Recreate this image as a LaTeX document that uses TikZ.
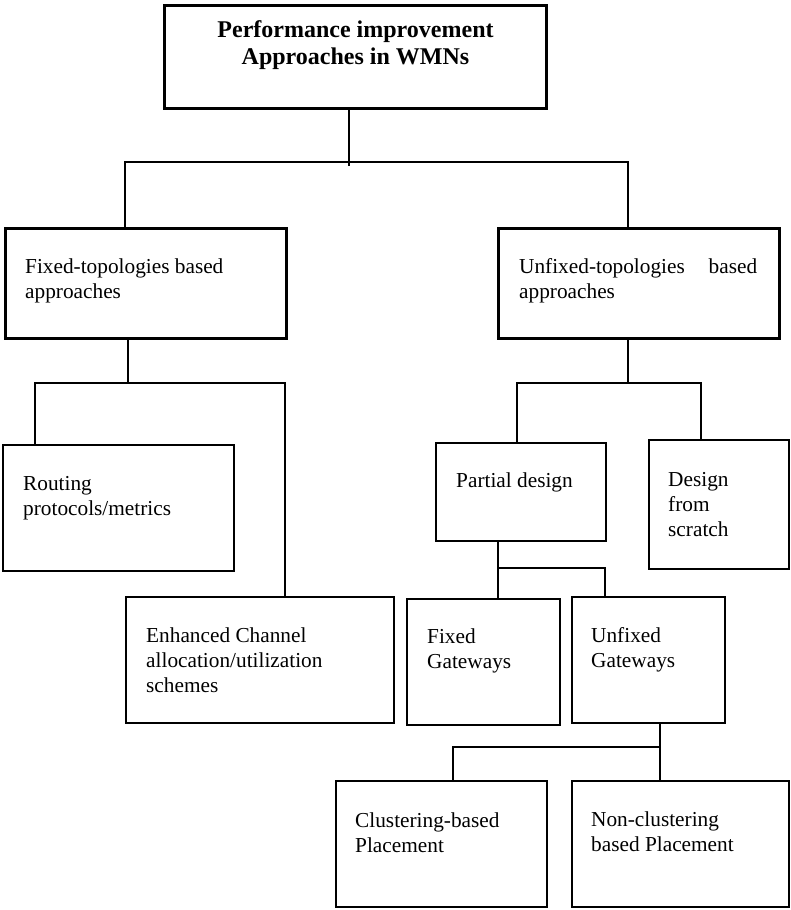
\documentclass[tikz,border=0pt]{standalone}
\usepackage{fontspec}
\setmainfont{Liberation Serif}
\newcommand\lbl{\fontsize{21.3}{25}\selectfont}
\newcommand\ttl{\fontsize{24}{28}\selectfont\bfseries}
\begin{document}
\begin{tikzpicture}[x=1pt,y=-1pt,
    box/.style={draw,line width=2pt,inner sep=0pt,anchor=north west},
    thickbox/.style={box,line width=3pt},
    txt/.style={anchor=base west,inner sep=0pt,font=\lbl},
    link/.style={line width=1.8pt}]
    \useasboundingbox (0,0) rectangle (790,910);

    % boxes
    \node[thickbox,minimum width=382pt,minimum height=103pt] (top) at (163,4) {};
    \node[thickbox,minimum width=281pt,minimum height=110pt] (fix) at (4,227) {};
    \node[thickbox,minimum width=281pt,minimum height=110pt] (unfix) at (497,227) {};
    \node[box,minimum width=231pt,minimum height=126pt] (route) at (2,444) {};
    \node[box,minimum width=268pt,minimum height=126pt] (enh) at (125,596) {};
    \node[box,minimum width=170pt,minimum height=98pt] (part) at (435,442) {};
    \node[box,minimum width=140pt,minimum height=129pt] (scratch) at (648,439) {};
    \node[box,minimum width=153pt,minimum height=126pt] (fgw) at (406,598) {};
    \node[box,minimum width=153pt,minimum height=126pt] (ugw) at (571,596) {};
    \node[box,minimum width=211pt,minimum height=126pt] (clu) at (335,780) {};
    \node[box,minimum width=217pt,minimum height=126pt] (nclu) at (571,780) {};

    % texts
    \node[anchor=base,inner sep=0pt,font=\ttl] (toptxt) at ([yshift=-33pt]top.north)
        {\parbox[t]{380pt}{\centering Performance improvement\\Approaches in WMNs}};
    \node[txt] (fixtxt) at ([shift={(21pt,-46pt)}]fix.north west)
        {\parbox[t]{255pt}{\raggedright Fixed-topologies based\\approaches}};
    \node[txt] (unfixtxt) at ([shift={(22pt,-46pt)}]unfix.north west)
        {\parbox[t]{238pt}{\raggedright Unfixed-topologies\hfill based\\approaches}};
    \node[txt] (routetxt) at ([shift={(21pt,-46pt)}]route.north west)
        {\parbox[t]{205pt}{\raggedright Routing\\protocols/metrics}};
    \node[txt] (enhtxt) at ([shift={(21pt,-46pt)}]enh.north west)
        {\parbox[t]{240pt}{\raggedright Enhanced Channel\\allocation/utilization\\schemes}};
    \node[txt] (parttxt) at ([shift={(21pt,-45pt)}]part.north west)
        {\parbox[t]{145pt}{\raggedright Partial design}};
    \node[txt] (scratchtxt) at ([shift={(20pt,-47pt)}]scratch.north west)
        {\parbox[t]{115pt}{\raggedright Design\\from\\scratch}};
    \node[txt] (fgwtxt) at ([shift={(21pt,-45pt)}]fgw.north west)
        {\parbox[t]{128pt}{\raggedright Fixed\\Gateways}};
    \node[txt] (ugwtxt) at ([shift={(20pt,-46pt)}]ugw.north west)
        {\parbox[t]{128pt}{\raggedright Unfixed\\Gateways}};
    \node[txt] (clutxt) at ([shift={(20pt,-47pt)}]clu.north west)
        {\parbox[t]{188pt}{\raggedright Clustering-based\\Placement}};
    \node[txt] (nclutxt) at ([shift={(20pt,-46pt)}]nclu.north west)
        {\parbox[t]{195pt}{\raggedright Non-clustering\\based Placement}};

    % connectors
    \coordinate (t0) at (349,166);
    \coordinate (tl) at (125,162);
    \coordinate (tr) at (628,162);
    \draw[link] (t0 |- top.south) -- (t0);
    \draw[link] (fix.north -| tl) -- (tl) -- (tr) -- (tr |- unfix.north);

    \coordinate (f0) at (128,383);
    \coordinate (fl) at (35,383);
    \coordinate (fr) at (285,383);
    \draw[link] (f0 |- fix.south) -- (f0);
    \draw[link] (route.north -| fl) -- (fl) -- (fr) -- (fr |- enh.north);

    \coordinate (u0) at (628,383);
    \coordinate (ul) at (517,383);
    \coordinate (ur) at (701,383);
    \draw[link] (u0 |- unfix.south) -- (u0);
    \draw[link] (part.north -| ul) -- (ul) -- (ur) -- (ur |- scratch.north);

    \coordinate (p0) at (498,568);
    \coordinate (pr) at (605,568);
    \draw[link] (p0 |- part.south) -- (p0 |- fgw.north);
    \draw[link] (p0) -- (pr) -- (pr |- ugw.north);

    \coordinate (g0) at (660,747);
    \coordinate (gl) at (453,747);
    \draw[link] (g0 |- ugw.south) -- (g0 |- nclu.north);
    \draw[link] (clu.north -| gl) -- (gl) -- (g0);
\end{tikzpicture}
\end{document}
